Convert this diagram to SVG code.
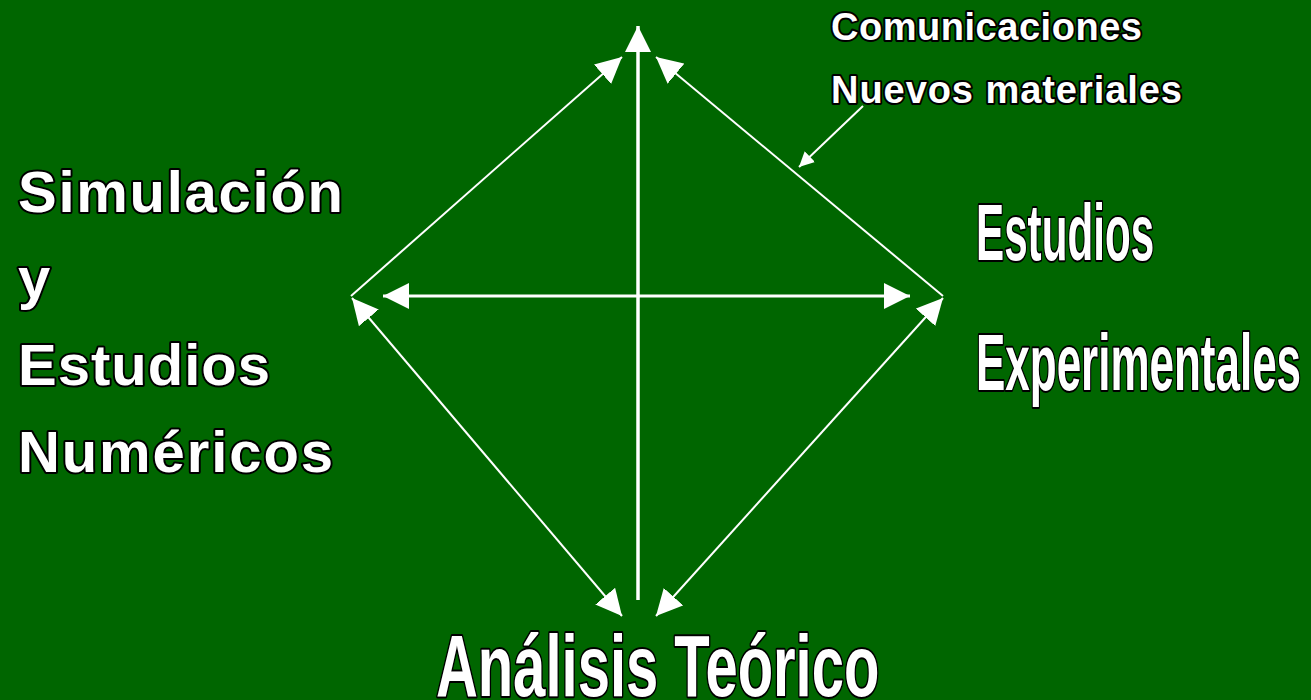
<svg xmlns="http://www.w3.org/2000/svg" width="1311" height="700" viewBox="0 0 1311 700">
<style>
.t{font-family:"Liberation Sans",Arial,sans-serif;font-weight:bold;fill:#fff;stroke:#000;stroke-width:4;paint-order:stroke;stroke-linejoin:round}
.c{stroke:#fff;fill:none}
</style>
<defs>
<marker id="ah" markerUnits="userSpaceOnUse" markerWidth="26" markerHeight="26" refX="26" refY="13" orient="auto-start-reverse" viewBox="0 0 26 26">
<path d="M0,0 L26,13 L0,26 z" fill="#fff"/>
</marker>
<marker id="ahs" markerUnits="userSpaceOnUse" markerWidth="15" markerHeight="15" refX="15" refY="7.5" orient="auto" viewBox="0 0 15 15">
<path d="M0,0 L15,7.5 L0,15 z" fill="#fff"/>
</marker>
</defs>
<rect width="1311" height="700" fill="#006600"/>
<g id="connectors">
<line class="c" x1="638" y1="600" x2="638" y2="26" stroke-width="3.5" marker-end="url(#ah)"/>
<line class="c" x1="383" y1="296" x2="910" y2="296" stroke-width="3" marker-start="url(#ah)" marker-end="url(#ah)"/>
<line class="c" x1="351" y1="296" x2="622" y2="57" stroke-width="2" marker-end="url(#ah)"/>
<line class="c" x1="943" y1="296" x2="656" y2="57" stroke-width="2" marker-end="url(#ah)"/>
<line class="c" x1="352" y1="298" x2="622" y2="616" stroke-width="2" marker-start="url(#ah)" marker-end="url(#ah)"/>
<line class="c" x1="943" y1="298" x2="656" y2="616" stroke-width="2" marker-start="url(#ah)" marker-end="url(#ah)"/>
<line class="c" x1="863" y1="106" x2="799" y2="167" stroke-width="2" marker-end="url(#ahs)"/>
</g>
<g id="node-comunicaciones">
<text class="t" x="831" y="40" font-size="38" textLength="311">Comunicaciones</text>
<text class="t" x="831" y="103" font-size="38" textLength="351">Nuevos materiales</text>
</g>
<g id="node-simulacion">
<text class="t" x="18" y="212" font-size="58" textLength="325">Simulación</text>
<text class="t" x="18" y="298" font-size="58">y</text>
<text class="t" x="18" y="385" font-size="58" textLength="252">Estudios</text>
<text class="t" x="18" y="472" font-size="58" textLength="315">Numéricos</text>
</g>
<g id="node-experimentales">
<text class="t" transform="translate(976,260) scale(0.54,1)" x="0" y="0" font-size="80" textLength="330" lengthAdjust="spacingAndGlyphs">Estudios</text>
<text class="t" transform="translate(976,390) scale(0.54,1)" x="0" y="0" font-size="80" textLength="602" lengthAdjust="spacingAndGlyphs">Experimentales</text>
</g>
<g id="node-analisis">
<text class="t" transform="translate(436,696) scale(0.65,1)" x="0" y="0" font-size="88" textLength="682" lengthAdjust="spacingAndGlyphs">Análisis Teórico</text>
</g>
</svg>
